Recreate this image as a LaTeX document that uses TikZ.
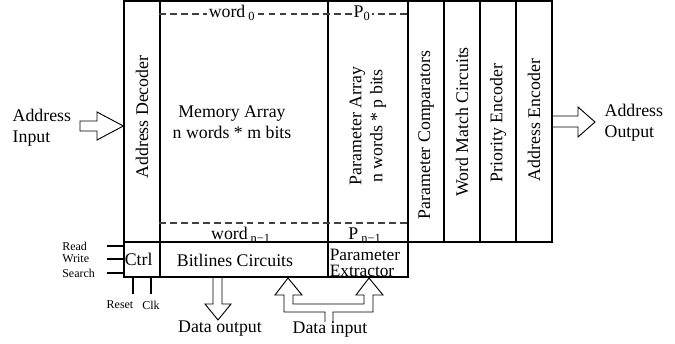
\documentclass[tikz,border=0pt]{standalone}
\usepackage{fontspec}
\setmainfont{Liberation Serif}
\usetikzlibrary{calc}

\tikzset{
	blk/.style 2 args={draw, line width=1pt, inner sep=0pt, minimum width=#1, minimum height=#2},
	vlbl/.style={rotate=90, inner sep=0pt},
	sig/.style={font=\fontsize{9}{10}\selectfont, inner sep=0pt},
	dsh/.style={draw=black!75, line width=0.9pt, dash pattern=on 5pt off 3.2pt},
	fat/.style={draw, line width=0.7pt, line join=miter},
	sub/.style={fill=white, inner sep=1.5pt}
}

\begin{document}
\begin{tikzpicture}[x=0.75pt, y=-0.75pt, font=\fontsize{13.35}{15.75}\selectfont]
	\useasboundingbox (0,0) rectangle (675,343);
	\node[blk={27pt}{180.75pt}] (dec) at (142,121.5) {};
	\node[blk={126pt}{180.75pt}] (mem) at (244,121.5) {};
	\node[blk={60pt}{180.75pt}] (par) at (368,121.5) {};
	\node[blk={27pt}{180.75pt}] (cmp) at (426,121.5) {};
	\node[blk={27pt}{180.75pt}] (wmc) at (462,121.5) {};
	\node[blk={27pt}{180.75pt}] (pri) at (498,121.5) {};
	\node[blk={27pt}{180.75pt}] (enc) at (534,121.5) {};
	\node[blk={27pt}{26.25pt}] (ctrl) at (142,259.5) {};
	\node[blk={126pt}{26.25pt}] (bit) at (244,259.5) {};
	\node[blk={60pt}{26.25pt}] (ext) at (368,259.5) {};

	\node[vlbl] (declbl) at (142,117) {Address Decoder};
	\node[align=center] (memlbl) at (232,122.5) {Memory Array\\n words * m bits};
	\node[vlbl, align=center] (parlbl) at (368,126) {Parameter Array\\n words * p bits};
	\node[vlbl] (cmplbl) at (426,135) {Parameter Comparators};
	\node[vlbl] (wmclbl) at (462,122) {Word Match Circuits};
	\node[vlbl] (prilbl) at (498,123) {Priority Encoder};
	\node[vlbl] (enclbl) at (534,120) {Address Encoder};

	\draw[dsh] (mem.west |- 0,14) -- (par.east |- 0,14);
	\draw[dsh] (mem.west |- 0,223) -- (par.east |- 0,223);
	\node[sub] (w0) at (232,13) {word\,\textsubscript{0}};
	\node[sub] (p0) at (362,13) {P\textsubscript{0}};
	\node[inner sep=0pt] (wn) at (241,235) {word\,\textsubscript{n−1}};
	\node[inner sep=0pt] (pn) at (365,235) {P\,\textsubscript{n−1}};

	\node[anchor=west, inner sep=0pt] (ctrllbl) at (124.5,259) {Ctrl};
	\node (bitlbl) at (235,260) {Bitlines Circuits};
	\node[anchor=west, align=left, inner sep=0pt, font=\fontsize{13}{12}\selectfont] (extlbl) at (329.5,263) {Parameter\\Extractor};

	\node[sig, anchor=west] (rd) at (62,246) {Read};
	\node[sig, anchor=west] (wr) at (62,259) {Write};
	\node[sig, anchor=west] (se) at (62,273) {Search};
	\node[sig] (rst) at (120,305) {Reset};
	\node[sig] (clk) at (151,305) {Clk};
	\coordinate (rdin) at (107,246);
	\coordinate (wrin) at (107,259);
	\coordinate (sein) at (107,273);
	\coordinate (rstin) at (133,294);
	\coordinate (clkin) at (151,294);
	\draw[line width=0.8pt] (rdin) -- (rdin -| ctrl.west);
	\draw[line width=0.8pt] (wrin) -- (wrin -| ctrl.west);
	\draw[line width=0.8pt] (sein) -- (sein -| ctrl.west);
	\draw[line width=0.8pt] (rstin) -- (rstin |- ctrl.south);
	\draw[line width=0.8pt] (clkin) -- (clkin |- ctrl.south);

	\node[anchor=west, align=left] (ain) at (8,127.5) {Address\\Input};
	\node[anchor=west, align=left] (aout) at (600,122.5) {Address\\Output};
	\draw[fat] (80,121) -- (97,121) -- (97,112) -- (dec.west |- 0,126) -- (97,140) -- (97,131) -- (80,131) -- cycle;
	\draw[fat] (enc.east |- 0,116) -- (578,116) -- (578,107) -- (595,122) -- (578,137) -- (578,127) -- (enc.east |- 0,127);

	\node (dout) at (220,329) {Data output};
	\node (din) at (330,329) {Data input};
	\draw[fat] (213,277) -- (213,304) -- (205,304) -- (218,320) -- (231,304) -- (222,304) -- (222,277);
	\draw[fat] (325,322) -- (325,312) -- (284,312) -- (284,295) -- (275,295) -- (288,278) -- (302,295) -- (293,295) -- (293,304)
		-- (364,304) -- (364,295) -- (356,295) -- (369,278) -- (383,295) -- (373,295) -- (373,312) -- (333,312) -- (333,322);
\end{tikzpicture}
\end{document}
